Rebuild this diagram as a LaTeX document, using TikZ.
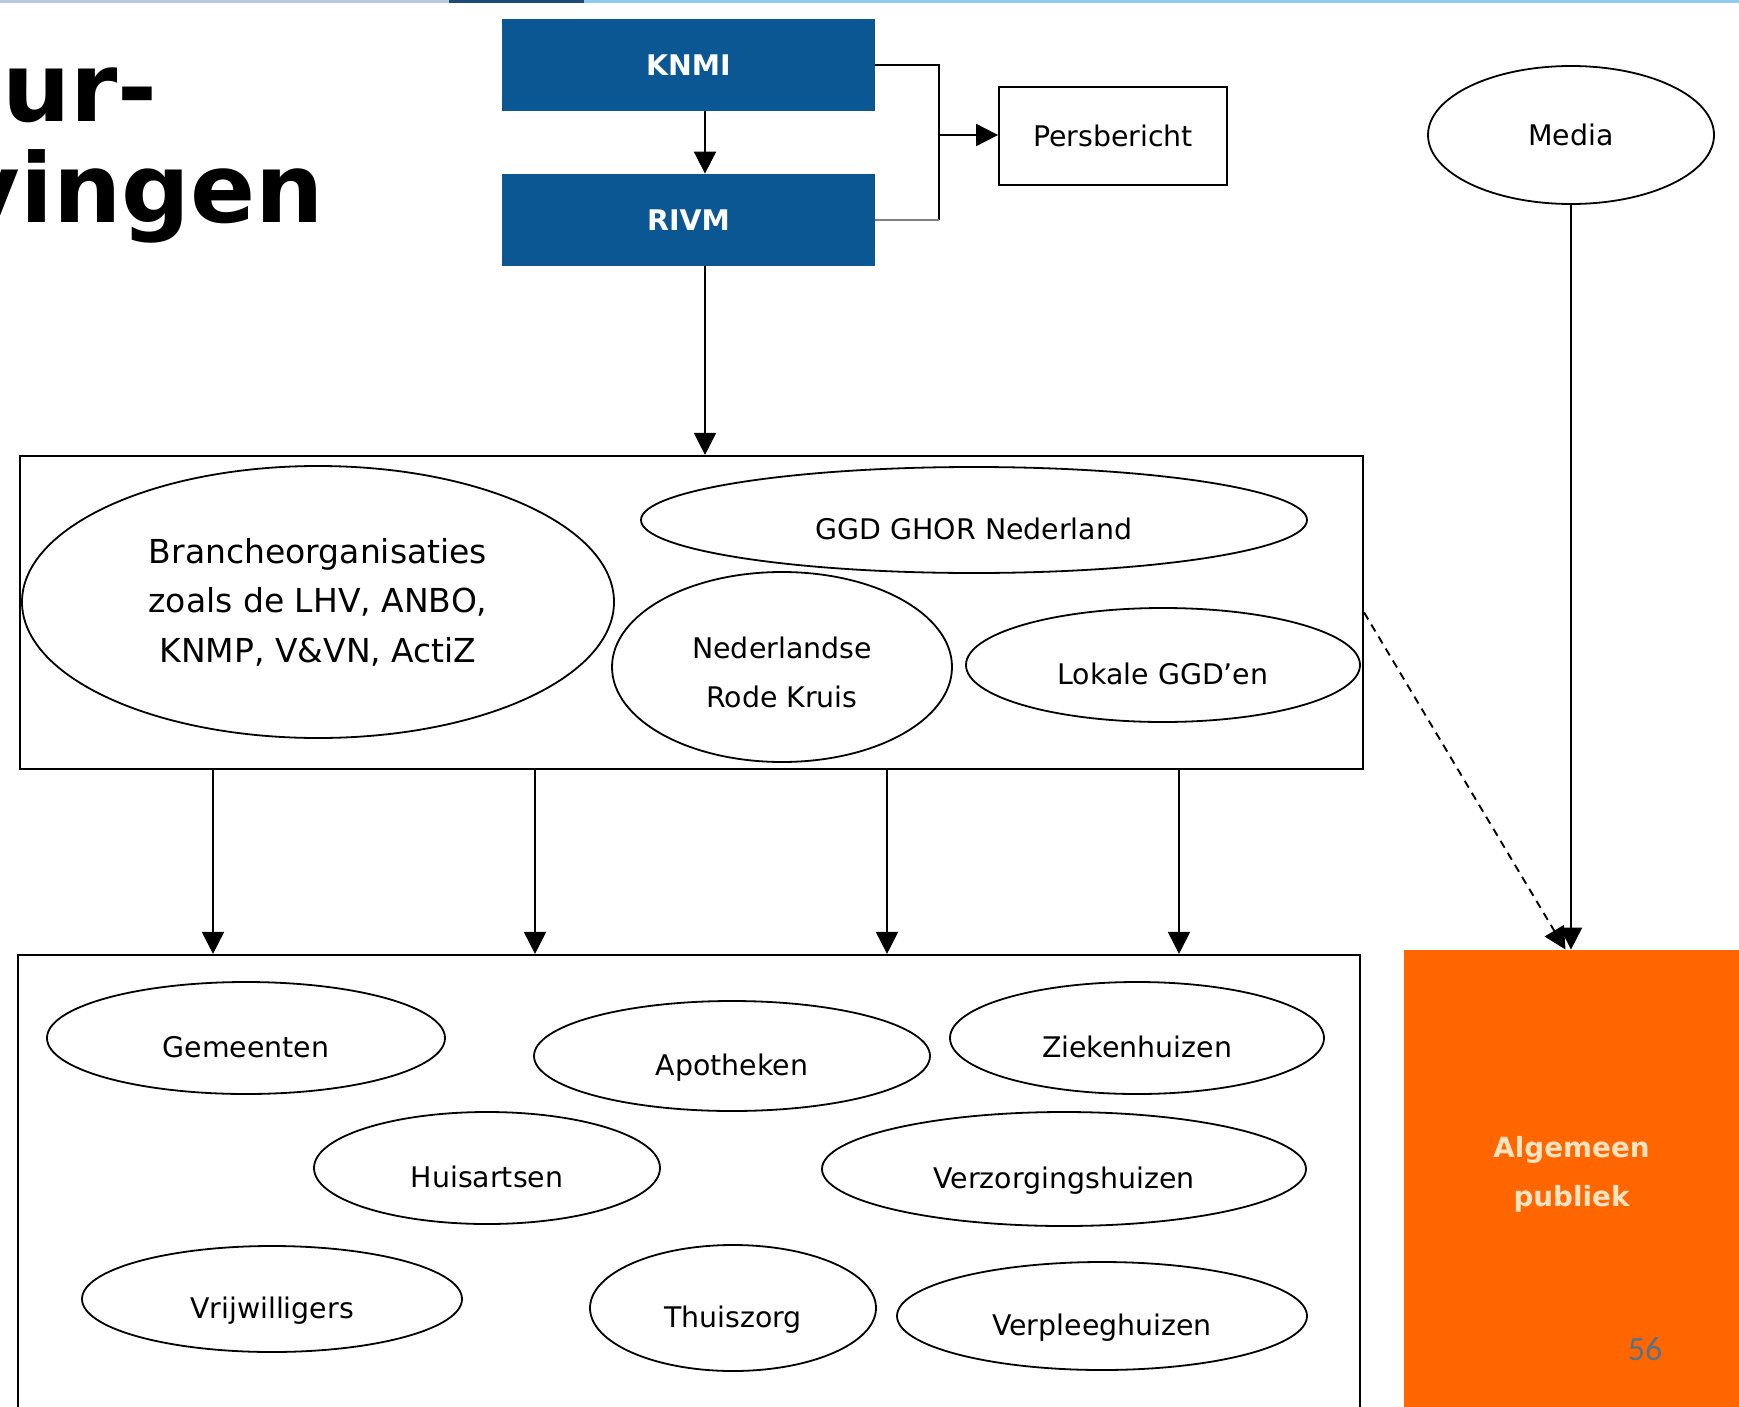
\documentclass[tikz,border=0pt]{standalone}
\usepackage{fontspec}
\setmainfont{DejaVu Sans}
\newfontfamily\slidefont{Carlito}
\usetikzlibrary{shapes.geometric,arrows.meta,positioning,calc,fit}
\definecolor{knmiblauw}{HTML}{0B5794}
\definecolor{publiekoranje}{HTML}{FF6600}
\definecolor{publiekcreme}{HTML}{FDE3C0}
\definecolor{paginagrijs}{HTML}{587288}
\definecolor{lijngrijs}{HTML}{7F7F7F}
\definecolor{balkgrijs}{HTML}{B7C9DA}
\definecolor{balkdonker}{HTML}{1F4A7A}
\definecolor{balklicht}{HTML}{8FCBEE}
\newcommand{\tekstmaat}{\fontsize{14.2pt}{24.5pt}\selectfont}
\newcommand{\grotemaat}{\fontsize{16.5pt}{24.7pt}\selectfont}
\newcommand{\titelmaat}{\fontsize{48pt}{52pt}\selectfont\bfseries}

\begin{document}
\begin{tikzpicture}[x=0.5pt,y=-0.5pt,font=\tekstmaat,
  blauwblok/.style={fill=knmiblauw,text=white,font=\tekstmaat\bfseries,minimum width=186.5pt,minimum height=46pt,inner sep=0pt},
  kader/.style={draw,line width=1.1pt,inner sep=0pt},
  wolk/.style={draw,ellipse,line width=0.9pt,inner sep=0pt,align=center},
  laag/.style={text height=19pt,text depth=0pt},
  pijl/.style={-{Triangle[length=11pt,width=11pt]},line width=0.95pt}]
  \useasboundingbox (0,0) rectangle (1739,1407);
  \clip (0,0) rectangle (1739,1407);
  \fill[white] (0,0) rectangle (1739,1407);
  \fill[balkgrijs] (0,0) rectangle (449,3);
  \fill[balkdonker] (449,0) rectangle (584,3);
  \fill[balklicht] (584,0) rectangle (1739,3);
  \node[anchor=base east,inner sep=0pt,font=\titelmaat] (titel1) at (158,122) {ur-};
  \node[anchor=base east,inner sep=0pt,font=\titelmaat] (titel2) at (324,223) {vingen};

  \node[blauwblok] (knmi) at (688.5,65) {KNMI};
  \node[blauwblok] (rivm) at (688.5,220) {RIVM};
  \node[draw,line width=0.9pt,minimum width=114pt,minimum height=49pt] (pers) at (1113,136) {Persbericht};
  \node[wolk,minimum width=143pt,minimum height=69pt] (media) at (1571,135) {Media};
  \node[kader,fit={(20,456) (1363,769)}] (midbox) {};
  \node[kader,fit={(18,955) (1360,1440)}] (botbox) {};
  \node[fill=publiekoranje,inner sep=0pt,fit={(1404,950) (1739,1440)},
    label={[font=\fontsize{13.9pt}{24.5pt}\selectfont\bfseries,text=publiekcreme,align=center,yshift=10.5pt]center:Algemeen\\publiek}] (publiek) {};
  \node[font=\slidefont\fontsize{17pt}{20pt}\selectfont,text=paginagrijs] (paginanr) at (1645,1349) {56};

  \node[wolk,font=\grotemaat,minimum width=296pt,minimum height=136pt] (branche) at (318,602) {Brancheorganisaties\\zoals de LHV, ANBO,\\KNMP, V\&VN, ActiZ};
  \node[wolk,minimum width=170pt,minimum height=95pt,text height=41pt] (rodekruis) at (782,667) {Nederlandse\\Rode Kruis};
  \foreach \nm/\x/\y/\rx/\ry/\lab in {ggd/974/520/333/53/GGD GHOR Nederland, lokale/1163/665/197/57/Lokale GGD’en,
      gemeenten/246/1038/199/56/Gemeenten, apotheken/732/1056/198/55/Apotheken, ziekenhuizen/1137/1038/187/56/Ziekenhuizen,
      huisartsen/487/1168/173/56/Huisartsen, verzorging/1064/1169/242/57/Verzorgingshuizen,
      vrijwilligers/272/1299/190/53/Vrijwilligers, thuiszorg/733/1308/143/63/Thuiszorg, verpleeg/1102/1316/205/54/Verpleeghuizen}
    \node[wolk,laag,minimum width=\rx pt,minimum height=\ry pt] (\nm) at (\x,\y) {\lab};

  \coordinate (stroom) at (705,0);
  \draw[pijl] (knmi.south -| stroom) -- (rivm.north -| stroom);
  \coordinate (splits) at (939,135);
  \draw[line width=0.9pt] (knmi.east) -| (splits) -- (splits |- rivm.east);
  \draw[line width=0.9pt,lijngrijs] (splits |- rivm.east) -- (rivm.east);
  \draw[pijl] (splits) -- (splits -| pers.west);
  \draw[pijl] (rivm.south -| stroom) -- (midbox.north -| stroom);
  \foreach \x in {213,535,887,1179}
    \draw[pijl] (midbox.south -| \x,0) -- (botbox.north -| \x,0);
  \draw[pijl] (media) -- (media |- publiek.north);
  \draw[pijl,dash pattern=on 4pt off 3pt] (midbox.east) -- ($(publiek.north)+(-6,0)$);
\end{tikzpicture}
\end{document}
